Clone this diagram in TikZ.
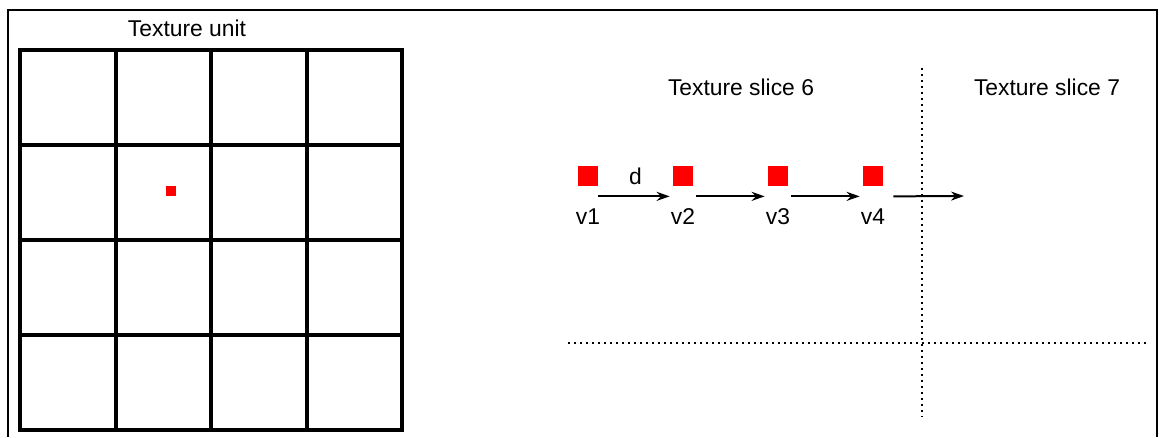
\documentclass[tikz,border=0pt]{standalone}
\usepackage{fontspec}
\setmainfont{Liberation Sans}
\usepackage{tikz}
\usetikzlibrary{arrows.meta,positioning}

\begin{document}
\begin{tikzpicture}[
  x=0.02cm, y=-0.02cm,
  flow/.style={-{Stealth[length=2.6mm,width=1.8mm]}, line width=0.04cm, shorten >=0.06cm},
  gridline/.style={line width=0.08cm, line join=miter},
  frameline/.style={line width=0.04cm},
  sliceline/.style={line width=0.04cm, dash pattern=on 0.04cm off 0.08cm},
  sample/.style={fill=red, draw=none, rectangle, minimum size=0.4cm, inner sep=0pt},
  every node/.style={font=\fontsize{13}{15}\selectfont},
  vlbl/.style={inner sep=0pt, label distance=0.44cm} % Etiquetas de las muestras
]
  \useasboundingbox (0,0) rectangle (1159,437);

  % --- MARCO ---
  \draw[frameline] (8,437) -- (8,10) -- (1157,10) -- (1157,437);

  % --- UNIDAD DE TEXTURA ---
  \node (unittitle) at (187,28) {Texture unit};
  \draw[gridline] (20,50) rectangle (402,430);
  \foreach \k in {1,2,3} {
    \draw[gridline] ({20+95.5*\k},50) -- ({20+95.5*\k},430);
    \draw[gridline] (20,{50+95*\k}) -- (402,{50+95*\k});
  }
  \node[sample, minimum size=0.2cm] (texel) at (171,191) {};

  % --- CORTES DE TEXTURA ---
  \node (slice6) at (741,87) {Texture slice 6};
  \node (slice7) at (1047,87) {Texture slice 7};
  \coordinate (vtop) at (922,68);
  \coordinate (vbot) at (922,417);
  \coordinate (hleft) at (568,343);
  \coordinate (hright) at (1147,343);
  \draw[sliceline] (vtop) -- (vbot);
  \draw[sliceline] (hleft) -- (hright);

  % --- MUESTRAS ---
  \node[sample, label={[vlbl]below:v1}] (v1) at (588,176) {};
  \node[sample, label={[vlbl]below:v2}] (v2) at (683,176) {};
  \node[sample, label={[vlbl]below:v3}] (v3) at (778,176) {};
  \node[sample, label={[vlbl]below:v4}] (v4) at (873,176) {};
  \coordinate (next) at (967,196);

  % --- PASOS ---
  \draw[flow] ([yshift=-2mm]v1.south east) -- node[above=0.22cm, inner sep=0pt] (step) {d} ([yshift=-2mm]v2.south west);
  \draw[flow] ([yshift=-2mm, xshift=0.06cm]v2.south east) -- ([yshift=-2mm]v3.south west);
  \draw[flow] ([yshift=-2mm, xshift=0.06cm]v3.south east) -- ([yshift=-2mm]v4.south west);
  \draw[flow] ([yshift=-2mm, xshift=0.2cm]v4.south east) -- (next);

\end{tikzpicture}
\end{document}
